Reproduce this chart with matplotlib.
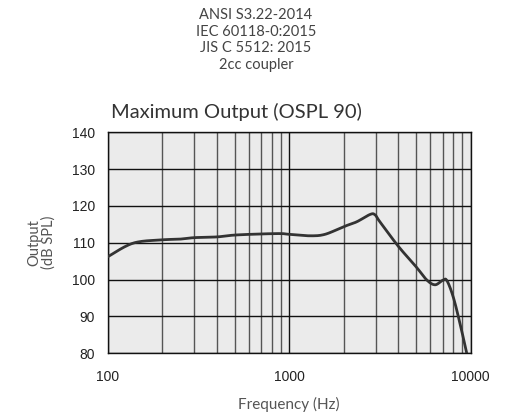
import numpy as np
import matplotlib
matplotlib.use("Agg")
import matplotlib.pyplot as plt
from matplotlib.ticker import FixedLocator, NullFormatter

# datos
freq = [100, 138, 200, 250, 300, 400, 500, 700, 900, 1000, 1300, 1575,
        2000, 2355, 2790, 2970, 3160, 4000, 5000, 5730, 6360, 7000, 7380,
        8000, 8730, 9510]
output = [106.2, 109.9, 110.8, 111.0, 111.4, 111.6, 112.1, 112.4, 112.5,
          112.3, 111.9, 112.3, 114.4, 115.7, 117.7, 117.6, 115.7, 109.0,
          103.5, 99.9, 98.6, 99.8, 99.8, 95.4, 88.1, 80.0]
yticks = [80, 90, 100, 110, 120, 130, 140]
xticks = [100, 1000, 10000]
header = ["ANSI S3.22-2014", "IEC 60118-0:2015", "JIS C 5512: 2015", "2cc coupler"]

fig = plt.figure(figsize=(5.12, 4.13), dpi=100)
ax = fig.add_axes([107.7 / 512, 1 - 353.3 / 413, (470.7 - 107.7) / 512, (353.3 - 132.3) / 413])
ax.set_facecolor("#ebebeb")

# interpolacion cubica simple (Catmull-Rom) en escala log para dibujar
def catmull(xs, ys, n=20):
    px, py = [], []
    xs = list(xs); ys = list(ys)
    xs = [xs[0]] + xs + [xs[-1]]
    ys = [ys[0]] + ys + [ys[-1]]
    for i in range(1, len(xs) - 2):
        for s in np.linspace(0, 1, n, endpoint=False):
            s2, s3 = s * s, s * s * s
            def f(p):
                return 0.5 * ((2 * p[i]) + (-p[i-1] + p[i+1]) * s +
                              (2*p[i-1] - 5*p[i] + 4*p[i+1] - p[i+2]) * s2 +
                              (-p[i-1] + 3*p[i] - 3*p[i+1] + p[i+2]) * s3)
            px.append(f(xs)); py.append(f(ys))
    px.append(xs[-2]); py.append(ys[-2])
    return np.array(px), np.array(py)

sx, sy = catmull(np.log10(freq), output)
ax.set_xscale("log")
ax.set_xlim(100, 10000)
ax.set_ylim(80, 140)
ax.plot(10 ** sx, sy, color="#333333", lw=2, zorder=3)

ax.xaxis.set_major_locator(FixedLocator(xticks))
minor = [m * d for d in (100, 1000) for m in range(2, 10)]
ax.xaxis.set_minor_locator(FixedLocator(minor))
ax.xaxis.set_minor_formatter(NullFormatter())
ax.set_yticks(yticks)
ax.set_xticklabels([str(v) for v in xticks], family="Liberation Sans", fontsize=10, color="#222222")
ax.set_yticklabels([str(v) for v in yticks], family="Liberation Sans", fontsize=10, color="#222222")
ax.grid(which="major", color="#111111", lw=1)
ax.grid(which="minor", axis="x", color="#555555", lw=1)
ax.tick_params(which="both", length=0)
ax.tick_params(axis="y", pad=9)
ax.tick_params(axis="x", pad=12)
for sp in ax.spines.values():
    sp.set_color("#111111")
    sp.set_linewidth(1)

ax.set_xlabel("Frequency (Hz)", fontsize=11, color="#555555", family="Lato", labelpad=9)
ax.set_ylabel("Output\n(dB SPL)", fontsize=10.5, color="#555555", family="Lato",
              labelpad=12, linespacing=1.0)

fig.text(111 / 512, 1 - 112 / 413, "Maximum Output (OSPL 90)", fontsize=14.5,
         color="#333333", family="Lato", ha="left", va="center")
for i, line in enumerate(header):
    fig.text(256 / 512, 1 - (15 + i * 16.7) / 413, line, fontsize=10.5,
             color="#444444", family="Lato", ha="center", va="center")

fig.savefig("out.png", dpi=100)
